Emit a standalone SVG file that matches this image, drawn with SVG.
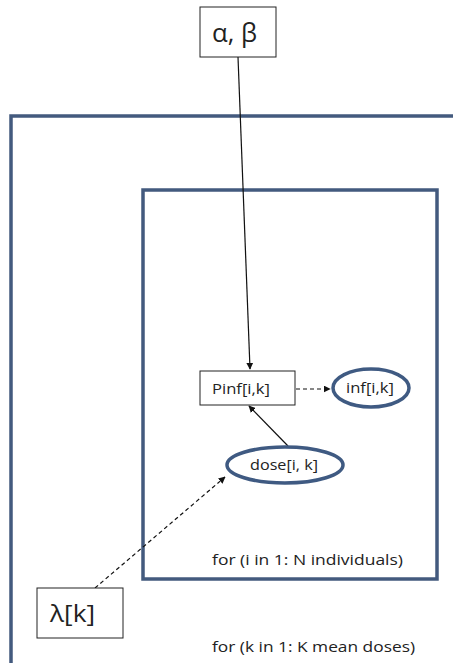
<svg xmlns="http://www.w3.org/2000/svg" width="453" height="663" viewBox="0 0 453 663">
<defs>
<style>
.plate{fill:none;stroke:#435a7e;stroke-width:3.5}
.box{fill:#fff;stroke:#222;stroke-width:1}
.ell{fill:#fff;stroke:#3f5a82;stroke-width:3.5}
.t{font-family:"Open Sans","Liberation Sans",sans-serif;fill:#222}
.e{stroke:#111;stroke-width:1.2;fill:none}
.d{stroke-dasharray:4,3}
</style>
<marker id="ah" viewBox="0 0 10 10" refX="9" refY="5" markerWidth="7" markerHeight="7" orient="auto" markerUnits="userSpaceOnUse">
<path d="M0,0 L10,5 L0,10 z" fill="#111"/>
</marker>
</defs>
<rect width="453" height="663" fill="#fff"/>
<g id="plate-k"><path class="plate" d="M11,670 V116 H460"/><text class="t" x="212" y="652" font-size="15" textLength="203" lengthAdjust="spacingAndGlyphs">for (k in 1: K mean doses)</text></g>
<g id="plate-i"><rect class="plate" x="143" y="190" width="294" height="389"/><text class="t" x="212" y="565" font-size="15" textLength="191" lengthAdjust="spacingAndGlyphs">for (i in 1: N individuals)</text></g>
<g id="connectors">
<line class="e" x1="238" y1="57" x2="250" y2="369" marker-end="url(#ah)"/>
<line class="e d" x1="296" y1="389" x2="330" y2="389" marker-end="url(#ah)"/>
<line class="e" x1="288" y1="446" x2="249" y2="406" marker-end="url(#ah)"/>
<line class="e d" x1="95" y1="588" x2="225" y2="477" marker-end="url(#ah)"/>
</g>
<g id="alpha-beta"><rect class="box" x="200" y="7" width="76" height="50"/><text class="t" x="212" y="42" font-size="26" textLength="45" lengthAdjust="spacingAndGlyphs">α, β</text></g>
<g id="pinf"><rect class="box" x="200" y="371" width="95" height="34"/><text class="t" x="212" y="394" font-size="15" textLength="58" lengthAdjust="spacingAndGlyphs">Pinf[i,k]</text></g>
<g id="inf"><ellipse class="ell" cx="371" cy="388" rx="38" ry="19"/><text class="t" x="346" y="393" font-size="15" textLength="48" lengthAdjust="spacingAndGlyphs">inf[i,k]</text></g>
<g id="dose"><ellipse class="ell" cx="285" cy="465" rx="58" ry="18"/><text class="t" x="250" y="470" font-size="15" textLength="68" lengthAdjust="spacingAndGlyphs">dose[i, k]</text></g>
<g id="lambda"><rect class="box" x="37" y="588" width="86" height="50"/><text class="t" x="50" y="622" font-size="24" textLength="45" lengthAdjust="spacingAndGlyphs">λ[k]</text></g>
</svg>
